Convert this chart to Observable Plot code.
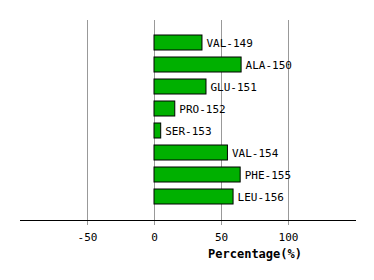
<!DOCTYPE html>
<html><head><meta charset="utf-8">
<script src="https://cdn.jsdelivr.net/npm/d3@7"></script>
<script src="https://cdn.jsdelivr.net/npm/@observablehq/plot@0.6"></script>
<style>body{margin:0;background:#fff}</style>
</head><body><div id="c"></div>
<script>
const residues = ["VAL-149","ALA-150","GLU-151","PRO-152","SER-153","VAL-154","PHE-155","LEU-156"];
const values = [35.8, 65, 38.8, 15.5, 5, 54.8, 64.3, 59];
const xTicks = [-50, 0, 50, 100];
const xLabel = "Percentage(%)";
const data = residues.map((r,i)=>({r, v: values[i]}));
const font = "DejaVu Sans Mono, monospace";
const chart = Plot.plot({
  width: 374, height: 280,
  marginTop: 20, marginBottom: 60, marginLeft: 20, marginRight: 19,
  style: {fontFamily: font, fontSize: "11px", background: "#fff"},
  x: {domain: [-100, 150], axis: null},
  y: {domain: residues, axis: null, paddingInner: 0.3, paddingOuter: 0.64},
  marks: [
    Plot.gridX(xTicks, {stroke: "#999", strokeOpacity: 1, strokeWidth: 1}),
    Plot.axisX(xTicks, {tickSize: 5, stroke: "#999", fill: "black", tickPadding: 8, tickFormat: d => String(d), label: null, fontSize: 11}),
    Plot.frame({anchor: "bottom", stroke: "black"}),
    Plot.barX(data, {x: "v", y: "r", fill: "#00b000", stroke: "black", strokeWidth: 1}),
    Plot.text(data, {x: "v", y: "r", text: "r", textAnchor: "start", dx: 4, fill: "black"}),
    Plot.text([xLabel], {frameAnchor: "bottom", dx: 67, dy: 37, fontWeight: "bold", fontSize: 12, fill: "black"})
  ]
});
document.getElementById("c").appendChild(chart);
</script></body></html>
